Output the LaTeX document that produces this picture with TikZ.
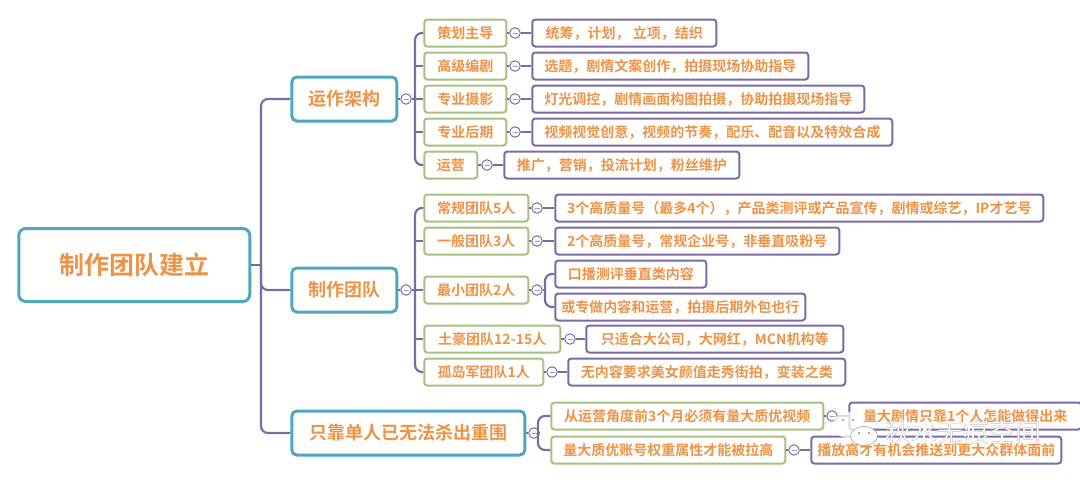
\documentclass[tikz,border=0pt]{standalone}
\usepackage{fontspec}
\setmainfont{Noto Sans CJK SC}[BoldFont={Noto Sans CJK SC Bold}]
\usepackage[outline]{contour}
\contourlength{0.35pt}
\definecolor{boxteal}{HTML}{4FA6BE}
\definecolor{boxgreen}{HTML}{A6C07E}
\definecolor{boxpurple}{HTML}{7C6AA6}
\definecolor{labelorange}{HTML}{EC9347}
\tikzset{
  base/.style = {draw, fill = white, rounded corners = 3, anchor = west, align = center, inner sep = 0pt, xshift = -0.7pt, text = labelorange, font = \bfseries},
  rootbox/.style = {base, draw = boxteal, line width = 3pt, rounded corners = 7, minimum height = 73, font = \bfseries\fontsize{25}{30}\selectfont},
  topbox/.style = {base, draw = boxteal, line width = 3pt, rounded corners = 5, minimum height = 44, font = \bfseries\fontsize{18}{22}\selectfont},
  midbox/.style = {base, draw = boxgreen, line width = 2pt, minimum height = 27, font = \bfseries\fontsize{14}{17}\selectfont},
  leafbox/.style = {base, draw = boxpurple, line width = 2pt, minimum height = 27, font = \bfseries\fontsize{14}{17}\selectfont},
  link/.style = {draw = boxpurple, line width = 2.2pt, rounded corners = 7},
  dot/.style = {circle, draw = boxpurple, fill = white, line width = 1pt, minimum size = 10.5, inner sep = 0pt,
    path picture = {\draw[boxpurple!70, line width = 0.7pt] ([xshift=-2.5]path picture bounding box.center) -- ([xshift=2.5]path picture bounding box.center);}}
}

\begin{document}
\begin{tikzpicture}[x=1pt,y=-1pt]
\useasboundingbox (0,0) rectangle (1080,483);

\coordinate (rootfork) at (261,265);
\coordinate (f1) at (415,99);
\coordinate (f2) at (415,290);
\coordinate (f3) at (538,433);
\coordinate (f23) at (545,290);
\coordinate (f12) at (415,66);
\coordinate (f14) at (415,132);
\coordinate (f22) at (415,241);
\coordinate (f24) at (415,339);

\node[rootbox, minimum width = 231] (root) at (18,265) {制作团队建立};

\node[topbox, minimum width = 105] (n1) at (291,99) {运作架构};
\node[topbox, minimum width = 105] (n2) at (291,290) {制作团队};
\node[topbox, minimum width = 233] (n3) at (291,433) {只靠单人已无法杀出重围};

\node[dot] (d1) at (406,99) {};
\node[dot] (d2) at (406,290) {};
\node[dot] (d3) at (534,433) {};

\node[midbox, minimum width = 82] (n11) at (424,33) {策划主导};
\node[dot] (d11) at (515,33) {};
\node[leafbox, minimum width = 184] (n111) at (532,33) {统筹，计划， 立项，结织};

\node[midbox, minimum width = 82] (n12) at (424,66) {高级编剧};
\node[dot] (d12) at (515,66) {};
\node[leafbox, minimum width = 276] (n121) at (532,66) {选题，剧情文案创作，拍摄现场协助指导};

\node[midbox, minimum width = 82] (n13) at (424,99) {专业摄影};
\node[dot] (d13) at (515,99) {};
\node[leafbox, minimum width = 332] (n131) at (532,99) {灯光调控，剧情画面构图拍摄，协助拍摄现场指导};

\node[midbox, minimum width = 82] (n14) at (424,132) {专业后期};
\node[dot] (d14) at (515,132) {};
\node[leafbox, minimum width = 360] (n141) at (532,132) {视频视觉创意，视频的节奏，配乐、配音以及特效合成};

\node[midbox, minimum width = 53] (n15) at (424,165) {运营};
\node[dot] (d15) at (487,165) {};
\node[leafbox, minimum width = 235] (n151) at (504,165) {推广，营销，投流计划，粉丝维护};

\node[midbox, minimum width = 104] (n21) at (424,208) {常规团队5人};
\node[dot] (d21) at (537,208) {};
\node[leafbox, minimum width = 488] (n211) at (555,208) {3个高质量号（最多4个），产品类测评或产品宣传，剧情或综艺，IP才艺号};

\node[midbox, minimum width = 104] (n22) at (424,241) {一般团队3人};
\node[dot] (d22) at (537,241) {};
\node[leafbox, minimum width = 284] (n221) at (555,241) {2个高质量号，常规企业号，非垂直吸粉号};

\node[midbox, minimum width = 104] (n23) at (424,290) {最小团队2人};
\node[dot] (d23) at (537,290) {};
\node[leafbox, minimum width = 151] (n231) at (555,274) {口播测评垂直类内容};
\node[leafbox, minimum width = 250] (n232) at (555,307) {或专做内容和运营，拍摄后期外包也行};

\node[midbox, minimum width = 136] (n24) at (424,339) {土豪团队12-15人};
\node[dot] (d24) at (570,339) {};
\node[leafbox, minimum width = 257] (n241) at (586,339) {只适合大公司，大网红，MCN机构等};

\node[midbox, minimum width = 119] (n25) at (424,372) {孤岛军团队1人};
\node[dot] (d25) at (552,372) {};
\node[leafbox, minimum width = 277] (n251) at (568,372) {无内容要求美女颜值走秀街拍，变装之类};

\node[midbox, minimum width = 272] (n31) at (551,416) {从运营角度前3个月必须有量大质优视频};
\node[dot] (d31) at (832,416) {};
\node[leafbox, minimum width = 232] (n311) at (849,416) {量大剧情只靠1个人怎能做得出来};

\node[midbox, minimum width = 234] (n32) at (551,450) {量大质优账号权重属性才能被拉高};
\node[dot] (d32) at (794,450) {};
\node[leafbox, minimum width = 250] (n321) at (811,450) {播放高才有机会推送到更大众群体面前};

\draw[link] (root.east) -- (rootfork);
\draw[link] (rootfork) |- (n1.west);
\draw[link] (rootfork) |- (n2.west);
\draw[link] (rootfork) |- (n3.west);

\draw[link] (n1.east) -- (d1);
\draw[link] (d1) -- (f1);
\draw[link] (f1) |- (n11.west);
\draw[link] (f1) -- (n13.west);
\draw[link] (f1) |- (n15.west);
\draw[link] (f12) -- (n12.west);
\draw[link] (f14) -- (n14.west);

\draw[link] (n2.east) -- (d2);
\draw[link] (d2) -- (f2);
\draw[link] (f2) |- (n21.west);
\draw[link] (f2) -- (n23.west);
\draw[link] (f2) |- (n25.west);
\draw[link] (f22) -- (n22.west);
\draw[link] (f24) -- (n24.west);

\draw[link] (n3.east) -- (d3);
\draw[link] (d3) -- (f3);
\draw[link] (f3) |- (n31.west);
\draw[link] (f3) |- (n32.west);

\draw[link] (n11.east) -- (d11);
\draw[link] (d11) -- (n111.west);
\draw[link] (n12.east) -- (d12);
\draw[link] (d12) -- (n121.west);
\draw[link] (n13.east) -- (d13);
\draw[link] (d13) -- (n131.west);
\draw[link] (n14.east) -- (d14);
\draw[link] (d14) -- (n141.west);
\draw[link] (n15.east) -- (d15);
\draw[link] (d15) -- (n151.west);

\draw[link] (n21.east) -- (d21);
\draw[link] (d21) -- (n211.west);
\draw[link] (n22.east) -- (d22);
\draw[link] (d22) -- (n221.west);
\draw[link] (n23.east) -- (d23);
\draw[link] (d23) -- (f23);
\draw[link] (f23) |- (n231.west);
\draw[link] (f23) |- (n232.west);
\draw[link] (n24.east) -- (d24);
\draw[link] (d24) -- (n241.west);
\draw[link] (n25.east) -- (d25);
\draw[link] (d25) -- (n251.west);

\draw[link] (n31.east) -- (d31);
\draw[link] (d31) -- (n311.west);
\draw[link] (n32.east) -- (d32);
\draw[link] (d32) -- (n321.west);

\fill[white, fill opacity = 0.75] (848,425) ellipse (15 and 13);
\fill[white, draw = black!40, line width = 0.5pt] (864,436) ellipse (13.5 and 9.5);
\fill[black!45] (843,420) circle (1.2) (853,420) circle (1.2) (859,433) circle (1.1) (869,433) circle (1.1);
\node[font = \fontsize{26}{30}\selectfont, text = white, inner sep = 0pt] (mark) at (963,433) {\contour{black!70}{秋水无痕空间}};

\end{tikzpicture}
\end{document}
